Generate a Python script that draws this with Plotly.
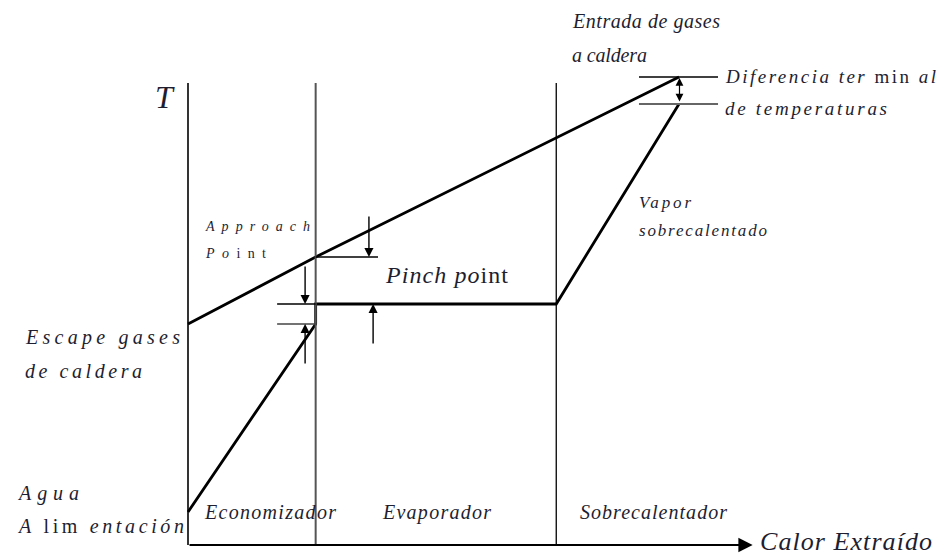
import json
import plotly.graph_objects as go

# ---- data (arbitrary heat Q / temperature T units) ----
zone_bounds = [0, 52, 150, 200]           # Q at section boundaries
zone_names = ["Economizador", "Evaporador", "Sobrecalentador"]
gas_Q = [0, 52, 200]
gas_T = [221, 288, 468]                    # exhaust gas cooling line
water_Q = [0, 52, 52, 150, 200]
water_T = [33, 221, 241, 241, 441]         # water / steam heating line
T_top = 462                                # top of vertical guide lines
Q_axis_end = 230

ink = "#1e1e30"
serif = "Liberation Serif"

fig = go.Figure()

fig.add_trace(go.Scatter(x=gas_Q, y=gas_T, mode="lines",
                         line=dict(color="black", width=2.8), hoverinfo="skip"))
fig.add_trace(go.Scatter(x=water_Q, y=water_T, mode="lines",
                         line=dict(color="black", width=2.8), hoverinfo="skip"))

shapes = []
def seg(x0, x1, y0, y1, color="black", width=1.6):
    shapes.append(dict(type="line", x0=x0, x1=x1, y0=y0, y1=y1, xref="x", yref="y",
                       line=dict(color=color, width=width)))

seg(zone_bounds[0], zone_bounds[0], 0, T_top, width=1.6)
seg(zone_bounds[1], zone_bounds[1], 0, T_top, color="#555", width=2)
seg(zone_bounds[2], zone_bounds[2], 0, T_top, width=1.3)
seg(36.3, zone_bounds[1], water_T[2], water_T[2])
seg(36.3, zone_bounds[1], water_T[1], water_T[1], color="#444")
seg(zone_bounds[1], 77.4, gas_T[1], gas_T[1])
seg(183.7, 215.9, gas_T[2], gas_T[2])
seg(183.7, 215.9, water_T[4], water_T[4], color="#666", width=1.8)

annotations = []

def arrow(x, y, ax, ay, side="end", width=1.4):
    annotations.append(dict(x=x, y=y, ax=ax, ay=ay, xref="x", yref="y",
                            axref="x", ayref="y", text="", showarrow=True,
                            arrowhead=2, arrowsize=1.3, arrowwidth=width,
                            arrowcolor="black", arrowside=side, standoff=0,
                            startstandoff=0))

arrow(Q_axis_end, 0, 0, 0, width=2.2)
arrow(73.7, gas_T[1], 73.7, 330)
arrow(75.4, water_T[2], 75.4, 200)
arrow(47.7, water_T[2], 47.7, 280)
arrow(47.7, water_T[1], 47.7, 180)
arrow(200.2, gas_T[2] - 1, 200.2, water_T[4] + 1, side="end+start", width=1.2)

targets = {}

def label(x, y, text, size, width=None):
    annotations.append(dict(x=x, y=y, xref="x", yref="y", text=text, showarrow=False,
                            xanchor="left", yanchor="middle", align="left",
                            font=dict(family=serif, size=size, color=ink)))
    if width:
        plain = text.replace("<i>", "").replace("</i>", "")
        targets[plain] = width

label(155.6, 524, "<i>Entrada de gases</i>", 20, 147)
label(155.6, 490, "<i>a caldera</i>", 20, 75)
label(217.9, 469, "<i>Diferencia ter</i> min <i>al</i>", 19, 210)
label(217.9, 437, "<i>de temperaturas</i>", 19, 162)
label(-14.3, 448, "<i>T</i>", 32)
label(6.1, 319, "<i>Approach</i>", 14, 104)
label(6.1, 292, "<i>Po</i>int", 14, 60)
label(79.4, 270, "<i>Pinch po</i>int", 24, 122)
label(182.9, 343, "<i>Vapor</i>", 17, 52)
label(182.9, 315, "<i>sobrecalentado</i>", 17, 128)
label(-67.2, 208, "<i>Escape gases</i>", 20, 154)
label(-67.2, 174, "<i>de caldera</i>", 20, 117)
label(-70.5, 52, "<i>Agua</i>", 20, 60)
label(-70.5, 19, "<i>A</i> lim <i>entación</i>", 20, 165)
label(5.7, 33, "<i>" + zone_names[0] + "</i>", 20, 131)
label(78.2, 33, "<i>" + zone_names[1] + "</i>", 20, 108)
label(158.9, 33, "<i>" + zone_names[2] + "</i>", 20, 147)
label(232.2, 4, "<i>Calor Extraído</i>", 26, 172)

fig.update_layout(
    width=941, height=558,
    margin=dict(l=0, r=0, t=0, b=0),
    paper_bgcolor="white", plot_bgcolor="white",
    showlegend=False,
    shapes=shapes, annotations=annotations,
    xaxis=dict(range=[-188 / 2.455, (941 - 188) / 2.455], visible=False, fixedrange=True),
    yaxis=dict(range=[-13, 545], visible=False, fixedrange=True),
)

post = """
document.body.style.margin = '0';
var gd = document.getElementById('{plot_id}');
var targets = TARGETS;
gd.querySelectorAll('text.annotation-text').forEach(function (t) {
  var k = t.textContent;
  if (!(k in targets)) return;
  t.style.letterSpacing = '0px';
  var w = t.getComputedTextLength();
  var n = k.length;
  if (n > 1) { t.style.letterSpacing = ((targets[k] - w) / (n - 1)) + 'px'; }
});
""".replace("TARGETS", json.dumps(targets))

fig.write_html("out.html", post_script=post, config={"displayModeBar": False})
